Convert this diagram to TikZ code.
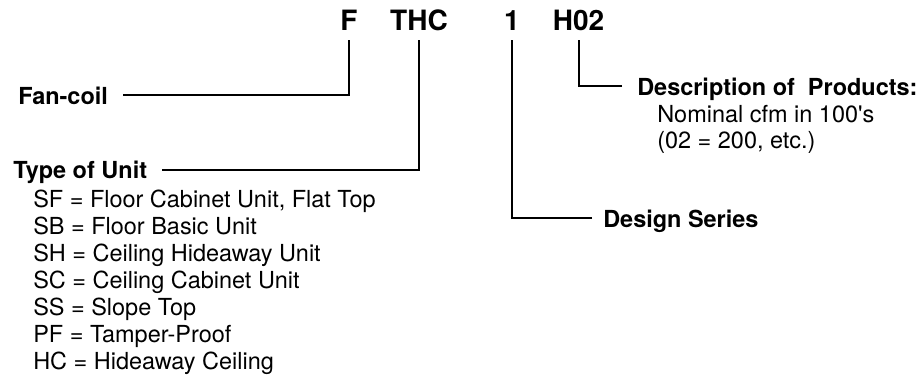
\documentclass[tikz,border=0pt]{standalone}
\usepackage{fontspec}
\setmainfont{TeX Gyre Heros}
\tikzset{
  code/.style={font=\fontsize{21}{25}\selectfont\bfseries, inner sep=0pt, text depth=0pt, anchor=base},
  head/.style={font=\fontsize{17.6}{21}\selectfont\bfseries, inner sep=0pt, text depth=0pt, anchor=base west},
  entry/.style={font=\fontsize{17.6}{21}\selectfont, inner sep=0pt, anchor=base west},
  lead/.style={line width=1.5pt, shorten <=11.25pt, shorten >=7.5pt},
}

\begin{document}
\begin{tikzpicture}[x=0.75pt, y=-0.75pt]
  \useasboundingbox (0,0) rectangle (923,389);
  % model number
  \node[code] (F) at (349,30) {F};
  \node[code] (THC) at (419,30) {THC};
  \node[code] (one) at (512,30) {1};
  \node[code] (H02) at (578.5,30) {H02};
  % headings
  \node[head] (fan) at (18,104) {Fan-coil};
  \node[head] (unit) at (13,178.5) {Type of Unit};
  \node[head] (series) at (603,227) {Design Series};
  \node[head] (desc) at (637,95) {Description of\ \ Products:};
  % entries
  \foreach \txt [count=\i] in {SF = Floor Cabinet Unit{,} Flat Top, SB = Floor Basic Unit,
      SH = Ceiling Hideaway Unit, SC = Ceiling Cabinet Unit, SS = Slope Top,
      PF = Tamper-Proof, HC = Hideaway Ceiling}
    \node[entry] (type\i) at (33,{180+27*\i}) {\txt};
  \node[entry] (cfm) at (657,122) {Nominal cfm in 100\textquotesingle s};
  \node[entry] (cfmex) at (657,148) {(02 = 200, etc.)};
  % leaders
  \draw[lead] (fan.east) -| (F.south);
  \draw[lead] (unit.east) -| (THC.south);
  \draw[lead, shorten <=8.25pt] (series.west) -| (one.south);
  \draw[lead] (desc.west) -| (H02.south);
\end{tikzpicture}
\end{document}
